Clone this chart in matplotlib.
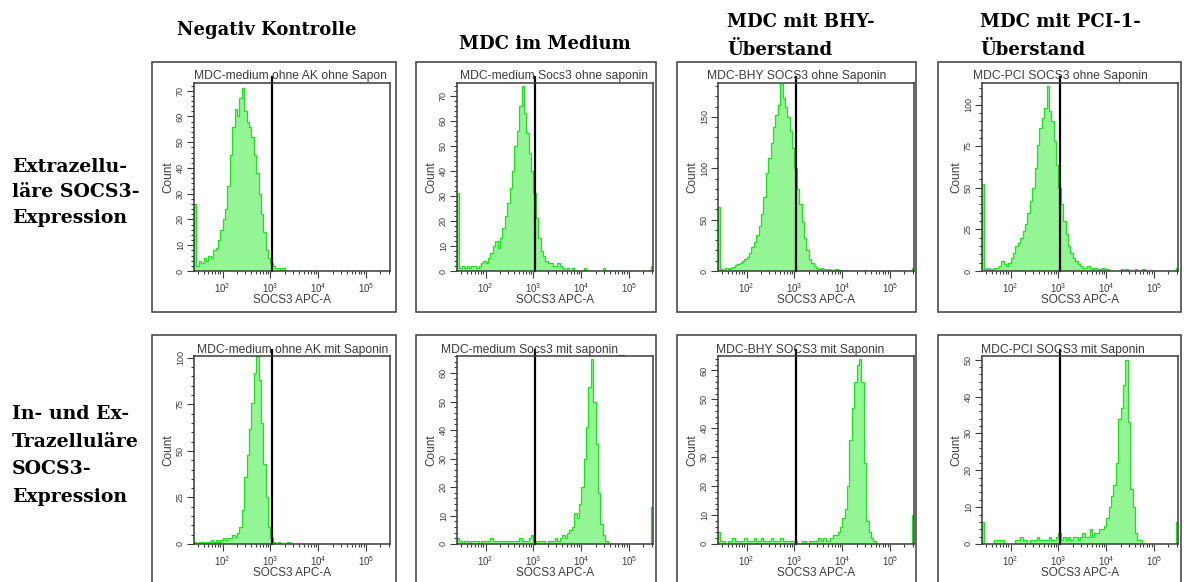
import numpy as np
import matplotlib
matplotlib.use("Agg")
import matplotlib.pyplot as plt
from matplotlib.ticker import MultipleLocator, AutoMinorLocator, LogLocator, NullFormatter
from matplotlib.patches import Rectangle

plt.rcParams['font.family'] = ['Liberation Sans', 'DejaVu Sans']
plt.rcParams['mathtext.default'] = 'regular'

# ---------------- data ----------------
column_titles = [["Negativ Kontrolle"], ["MDC im Medium"],
                 ["MDC mit BHY-", "Überstand"], ["MDC mit PCI-1-", "Überstand"]]
row_titles = [["Extrazellu-", "läre SOCS3-", "Expression"],
              ["In- und Ex-", "Trazelluläre", "SOCS3-", "Expression"]]
panel_titles = ["MDC-medium ohne AK ohne Sapon", "MDC-medium Socs3 ohne saponin",
                "MDC-BHY SOCS3 ohne Saponin", "MDC-PCI SOCS3 ohne Saponin",
                "MDC-medium ohne AK mit Saponin", "MDC-medium Socs3 mit saponin_",
                "MDC-BHY SOCS3 mit Saponin", "MDC-PCI SOCS3 mit Saponin"]
x_label = "SOCS3 APC-A"
y_label = "Count"
log_range = (1.40, 5.50)          # log10 of SOCS3 APC-A display range
n_bins = 82                       # histogram bins (0.05 decade each)
gate_value = 1100                 # vertical gate marker
y_max = [73, 75, 183, 113, 101, 66, 65, 51]
y_step = [10, 10, 50, 25, 25, 10, 10, 10]

counts_neg_ohne = [26, 2, 4, 3, 5, 4, 6, 5, 8, 9,
                   12, 16, 20, 24, 33, 45, 56, 63, 60, 67,
                   71, 62, 58, 56, 52, 45, 38, 30, 22, 15,
                   8, 5, 3, 2, 1, 1, 0, 1, 0, 0,
                   0, 0, 0, 0, 0, 0, 0, 0, 0, 0,
                   0, 0, 0, 0, 0, 0, 0, 0, 0, 0,
                   0, 0, 0, 0, 0, 0, 0, 0, 0, 0,
                   0, 0, 0, 0, 0, 0, 0, 0, 0, 0,
                   0, 0]
counts_med_ohne = [31, 1, 2, 1, 2, 1, 2, 2, 1, 2,
                   3, 4, 3, 5, 7, 10, 12, 9, 13, 17,
                   22, 27, 33, 40, 50, 56, 66, 74, 63, 55,
                   47, 40, 31, 21, 13, 8, 6, 4, 3, 3,
                   2, 2, 3, 2, 1, 0, 1, 0, 1, 0,
                   0, 0, 0, 1, 0, 0, 0, 0, 0, 0,
                   0, 1, 0, 0, 0, 0, 0, 0, 0, 0,
                   0, 0, 0, 0, 0, 0, 0, 0, 0, 0,
                   0, 2]
counts_bhy_ohne = [62, 2, 1, 3, 2, 3, 4, 6, 7, 8,
                   10, 12, 14, 18, 23, 28, 35, 44, 55, 72,
                   95, 110, 125, 140, 152, 162, 182, 168, 160, 150,
                   136, 120, 100, 80, 65, 48, 32, 20, 12, 8,
                   5, 3, 2, 3, 2, 1, 2, 1, 1, 2,
                   1, 1, 0, 1, 0, 0, 0, 0, 0, 0,
                   0, 1, 0, 0, 0, 0, 0, 0, 0, 0,
                   0, 0, 0, 0, 0, 0, 0, 0, 0, 0,
                   0, 3]
counts_pci_ohne = [52, 1, 2, 1, 1, 2, 2, 3, 6, 4,
                   3, 5, 8, 11, 15, 17, 20, 24, 28, 35,
                   42, 50, 62, 76, 86, 92, 98, 111, 96, 90,
                   78, 64, 50, 40, 30, 22, 15, 11, 8, 6,
                   4, 3, 2, 2, 3, 2, 1, 2, 1, 1,
                   2, 1, 1, 0, 0, 0, 0, 0, 1, 0,
                   1, 0, 0, 0, 1, 0, 0, 1, 0, 0,
                   0, 0, 0, 0, 0, 0, 0, 0, 0, 0,
                   0, 2]
counts_neg_mit = [1, 0, 1, 1, 0, 1, 1, 2, 1, 2,
                  1, 2, 3, 2, 3, 3, 5, 4, 6, 9,
                  18, 36, 48, 62, 76, 92, 101, 88, 65, 43,
                  25, 9, 3, 1, 0, 1, 0, 0, 0, 1,
                  0, 0, 0, 0, 0, 0, 0, 0, 0, 0,
                  0, 0, 0, 0, 0, 0, 0, 0, 0, 0,
                  0, 0, 0, 0, 0, 0, 0, 0, 0, 0,
                  0, 0, 0, 0, 0, 0, 0, 0, 0, 0,
                  0, 0]
counts_med_mit = [2, 1, 0, 1, 1, 0, 1, 1, 1, 0,
                  1, 1, 1, 1, 2, 1, 1, 1, 1, 1,
                  1, 1, 1, 1, 1, 1, 2, 1, 1, 1,
                  2, 3, 1, 0, 1, 1, 1, 0, 1, 1,
                  1, 2, 1, 2, 3, 2, 4, 5, 6, 11,
                  9, 14, 20, 30, 41, 55, 65, 50, 35, 18,
                  7, 3, 1, 0, 0, 0, 0, 0, 0, 0,
                  0, 0, 0, 0, 0, 0, 0, 0, 0, 0,
                  0, 13]
counts_bhy_mit = [4, 1, 1, 0, 1, 1, 2, 1, 1, 1,
                  1, 2, 1, 1, 1, 2, 1, 1, 2, 1,
                  1, 1, 2, 1, 1, 1, 2, 1, 1, 1,
                  1, 1, 1, 0, 0, 1, 1, 0, 1, 1,
                  1, 1, 2, 1, 2, 1, 1, 2, 3, 3,
                  4, 6, 9, 12, 20, 36, 47, 56, 62, 64,
                  56, 28, 8, 4, 2, 1, 0, 0, 0, 0,
                  0, 0, 0, 0, 0, 0, 0, 0, 0, 0,
                  0, 10]
counts_pci_mit = [6, 0, 0, 0, 0, 1, 1, 1, 1, 0,
                  0, 0, 0, 0, 1, 1, 2, 1, 1, 0,
                  1, 1, 1, 2, 1, 1, 1, 1, 2, 1,
                  1, 2, 3, 1, 2, 1, 2, 1, 2, 2,
                  1, 2, 3, 2, 2, 4, 2, 3, 3, 4,
                  4, 5, 7, 10, 13, 16, 22, 34, 37, 43,
                  50, 33, 15, 10, 3, 1, 1, 0, 0, 0,
                  0, 0, 0, 0, 0, 0, 0, 0, 0, 0,
                  0, 6]

all_counts = [counts_neg_ohne, counts_med_ohne, counts_bhy_ohne, counts_pci_ohne,
              counts_neg_mit, counts_med_mit, counts_bhy_mit, counts_pci_mit]

# ---------------- layout (pixels) ----------------
W, H = 1184, 582
fig = plt.figure(figsize=(W / 100, H / 100), dpi=100)
fig.patch.set_facecolor('white')

def fx(px):
    return px / W

def fy(py):
    return 1 - py / H

col_ax_left = [194, 457, 718, 982]
ax_w = 196
row_ax_top = [83, 356]
ax_h = 188
frame_left = [152, 416, 677, 938]
frame_right = [396, 656, 916, 1181]
frame_top = [62, 335]
frame_bottom = [312, 620]
title_cx = [[290, 554, 797, 1060], [293, 533, 800, 1063]]
title_cy = [76, 350]

text_col = '#3c3c3c'
line_col = '#3c3c3c'
fill_col = '#93f593'
edge_col = '#19e619'

bin_edges = 10 ** np.linspace(log_range[0], log_range[1], n_bins + 1)

for k in range(8):
    r, c = divmod(k, 4)
    # outer frame
    fig.patches.append(Rectangle((fx(frame_left[c]), fy(frame_bottom[r])),
                                 fx(frame_right[c] - frame_left[c]),
                                 (frame_bottom[r] - frame_top[r]) / H,
                                 transform=fig.transFigure, fill=False,
                                 edgecolor=line_col, lw=1.1, clip_on=False))
    left = col_ax_left[c]
    top = row_ax_top[r]
    ax = fig.add_axes([fx(left), fy(top + ax_h), ax_w / W, ax_h / H])
    ax.stairs(all_counts[k], bin_edges, fill=True, color=fill_col, lw=0)
    ax.stairs(all_counts[k], bin_edges, color=edge_col, lw=0.9)
    ax.set_xscale('log')
    ax.set_xlim(bin_edges[0], bin_edges[-1])
    ax.set_ylim(0, y_max[k])
    ax.axvline(gate_value, ymin=0, ymax=1.03, color='black', lw=1.6, clip_on=False)

    ax.xaxis.set_major_locator(LogLocator(base=10, numticks=10))
    ax.xaxis.set_minor_locator(LogLocator(base=10, subs=np.arange(2, 10), numticks=40))
    ax.xaxis.set_minor_formatter(NullFormatter())
    ax.yaxis.set_major_locator(MultipleLocator(y_step[k]))
    ax.yaxis.set_minor_locator(AutoMinorLocator(5))
    ax.tick_params(which='both', direction='out', colors=line_col, labelcolor=text_col, width=0.8)
    ax.tick_params(which='major', length=5)
    ax.tick_params(which='minor', length=2.5)
    ax.tick_params(axis='x', labelsize=7, pad=2)
    ax.tick_params(axis='y', labelrotation=90, labelsize=6.5, pad=1.5)
    for lab in ax.get_yticklabels():
        lab.set_va('center')
    for sp in ax.spines.values():
        sp.set_color(line_col)
        sp.set_linewidth(1.1)

    fig.text(fx(title_cx[r][c]), fy(title_cy[r]), panel_titles[k], ha='center', va='center',
             fontsize=8.7, color=text_col)
    fig.text(fx(left + ax_w / 2), fy(top + ax_h + 29), x_label, ha='center', va='center',
             fontsize=8.5, color=text_col)
    fig.text(fx(left - 26), fy(top + ax_h / 2), y_label, ha='center', va='center',
             rotation=90, fontsize=8.5, color=text_col)

serif = ['DejaVu Serif']
# column headers: (x, baseline, ha)
col_head_pos = [[(267, 35, 'center')], [(545, 49, 'center')],
                [(727, 27, 'left'), (727, 55, 'left')],
                [(980, 27, 'left'), (980, 55, 'left')]]
for lines, pos in zip(column_titles, col_head_pos):
    for line, (x, yb, ha) in zip(lines, pos):
        fig.text(fx(x), fy(yb), line, ha=ha, va='baseline', fontsize=13,
                 fontweight='bold', family=serif, color='black')

row_head_baselines = [[172, 197, 223], [419, 447, 474, 502]]
for lines, bases in zip(row_titles, row_head_baselines):
    for line, yb in zip(lines, bases):
        fig.text(fx(12), fy(yb), line, ha='left', va='baseline', fontsize=13.6,
                 fontweight='bold', family=serif, color='black')

fig.savefig('out.png', dpi=100, facecolor='white')
